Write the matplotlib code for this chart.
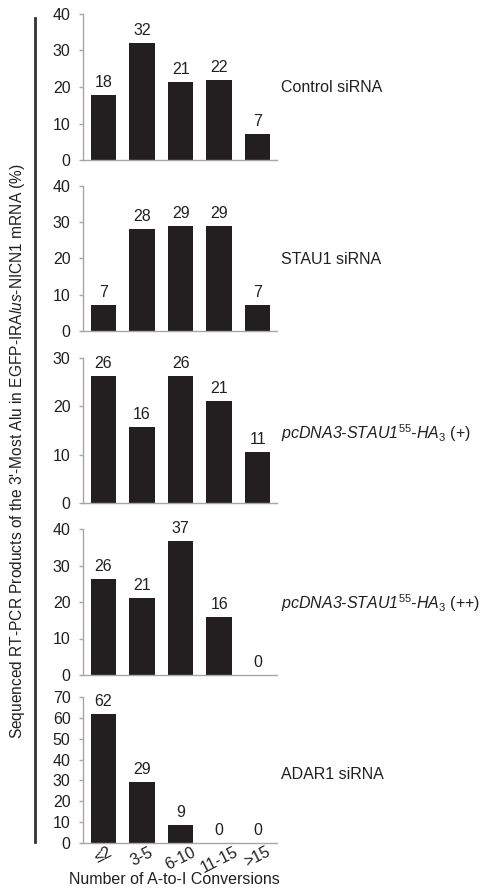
import matplotlib
matplotlib.use("Agg")
import matplotlib.pyplot as plt

plt.rcParams["font.family"] = ["Liberation Sans", "DejaVu Sans"]
plt.rcParams["mathtext.fontset"] = "custom"
plt.rcParams["mathtext.rm"] = "Liberation Sans"
plt.rcParams["mathtext.it"] = "Liberation Sans:italic"
plt.rcParams["mathtext.default"] = "it"

# data
categories = ["≤2", "3-5", "6-10", "11-15", ">15"]
control_sirna = [17.9, 32.1, 21.4, 22.0, 7.1]
stau1_sirna = [7.1, 28.0, 29.0, 29.0, 7.1]
stau1_plus = [26.3, 15.8, 26.3, 21.1, 10.6]
stau1_plusplus = [26.3, 21.1, 36.8, 15.8, 0.0]
adar1_sirna = [61.8, 29.4, 8.8, 0.0, 0.0]

panel_names = [
    "Control siRNA",
    "STAU1 siRNA",
    r"pcDNA3-STAU1$^{\mathit{55}}$-HA$_{\mathit{3}}$ $\mathrm{({+})}$",
    r"pcDNA3-STAU1$^{\mathit{55}}$-HA$_{\mathit{3}}$ $\mathrm{({+}{+})}$",
    "ADAR1 siRNA",
]
panel_values = [control_sirna, stau1_sirna, stau1_plus, stau1_plusplus, adar1_sirna]
panel_ymax = [40, 40, 30, 40, 70]

# layout (pixels from top of a 481x890 canvas)
W, H = 481, 890
panel_tops = [14, 186, 358, 529, 697]
panel_bottoms = [160, 331, 503, 675, 843]
name_y = [0.50, 0.495, 0.48, 0.494, 0.47]
left_px, right_px = 83, 277

BAR = "#231f20"
SPINE = "#a6a6a6"
FS = 11.5

fig = plt.figure(figsize=(W / 100, H / 100), dpi=100)

for i, (vals, name, ymax) in enumerate(zip(panel_values, panel_names, panel_ymax)):
    top, bot = panel_tops[i], panel_bottoms[i]
    ax = fig.add_axes([left_px / W, 1 - bot / H, (right_px - left_px) / W, (bot - top) / H])
    x = list(range(len(categories)))
    ax.bar(x, vals, width=0.66, color=BAR, edgecolor="none")
    for xi, v in zip(x, vals):
        ax.annotate(f"{round(v)}", (xi, v), xytext=(0, 5.8), textcoords="offset points",
                    ha="center", va="baseline", fontsize=FS, color=BAR)
    ax.set_xlim(-0.53, 4.5)
    ax.set_ylim(0, ymax)
    ax.set_yticks(range(0, ymax + 1, 10))
    for s in ["top", "right"]:
        ax.spines[s].set_visible(False)
    for s in ["left", "bottom"]:
        ax.spines[s].set_color(SPINE)
        ax.spines[s].set_linewidth(1.0)
    ax.tick_params(axis="y", length=3, width=1.0, color=SPINE, pad=6,
                   labelsize=FS, labelcolor=BAR)
    ax.patch.set_alpha(0)
    if i == len(panel_values) - 1:
        ax.set_xticks(x)
        ax.set_xticklabels(categories, rotation=27, ha="center", fontsize=FS, color=BAR)
        ax.tick_params(axis="x", length=0, pad=1)
    else:
        ax.set_xticks([])
    ax.text(1.02, name_y[i], name, transform=ax.transAxes, ha="left", va="center",
            fontsize=FS, color=BAR, style="italic" if "pcDNA3" in name else "normal")

fig.text(174 / W, 1 - 880 / H, "Number of A-to-I Conversions", ha="center", va="center",
         fontsize=FS, color=BAR)
fig.text(18 / W, 1 - 451 / H,
         r"Sequenced RT-PCR Products of the 3'-Most Alu in EGFP-IRA$\mathit{lus}$-NICN1 mRNA (%)",
         rotation=90, ha="center", va="center", fontsize=FS - 0.3, color=BAR)

# bracket line next to the y label
fig.add_artist(plt.Line2D([35 / W, 35 / W], [1 - 18 / H, 1 - 842 / H], color="#333333", linewidth=2))

fig.savefig("out.png", dpi=100)
